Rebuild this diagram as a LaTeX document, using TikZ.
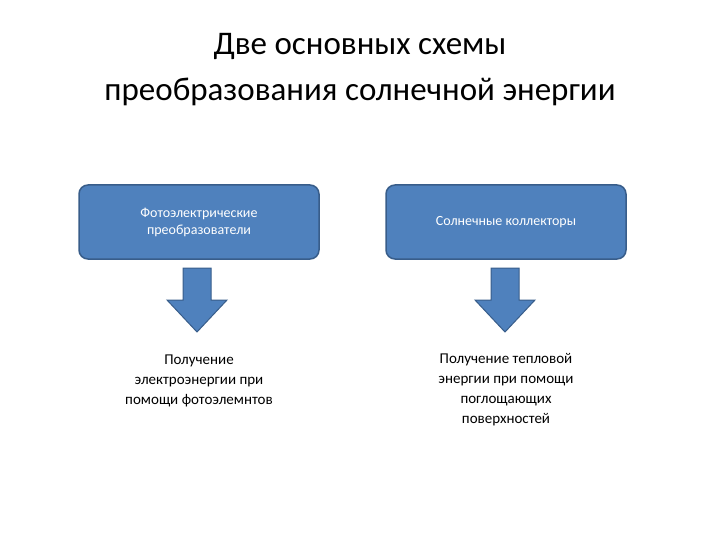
\documentclass[tikz,border=0pt]{standalone}
\usepackage{fontspec}
\setmainfont{Carlito}
\definecolor{boxblue}{HTML}{4F81BD}
\definecolor{edgeblue}{HTML}{385D8A}
\begin{document}
\begin{tikzpicture}[x=1pt,y=-1pt,
  bx/.style={draw=edgeblue,line width=1.5pt,fill=boxblue,rounded corners=9pt,minimum width=240pt,minimum height=74pt,text=white,align=center,font=\fontsize{14}{17}\selectfont},
  arr/.style={draw=edgeblue,line width=1pt,fill=boxblue},
  txt/.style={align=center,font=\fontsize{15}{20}\selectfont}]
\useasboundingbox (0,0) rectangle (720,540);
\node[align=center,font=\fontsize{33}{46}\selectfont] (title) at (360,70) {Две основных схемы\\преобразования солнечной энергии};
\node[bx] (b1) at (199,222) {Фотоэлектрические\\преобразователи};
\node[bx] (b2) at (506,222) {Солнечные коллекторы};
\foreach \c/\n in {197/a1,505/a2}{
  \draw[arr] (\c-14,268) -- (\c+14,268) -- (\c+14,300) -- (\c+30,300) -- (\c,332) -- (\c-30,300) -- (\c-14,300) -- cycle;
}
\node[txt] (t1) at (199,381) {Получение\\электроэнергии при\\помощи фотоэлемнтов};
\node[txt] (t2) at (506,390) {Получение тепловой\\энергии при помощи\\поглощающих\\поверхностей};
\end{tikzpicture}
\end{document}
